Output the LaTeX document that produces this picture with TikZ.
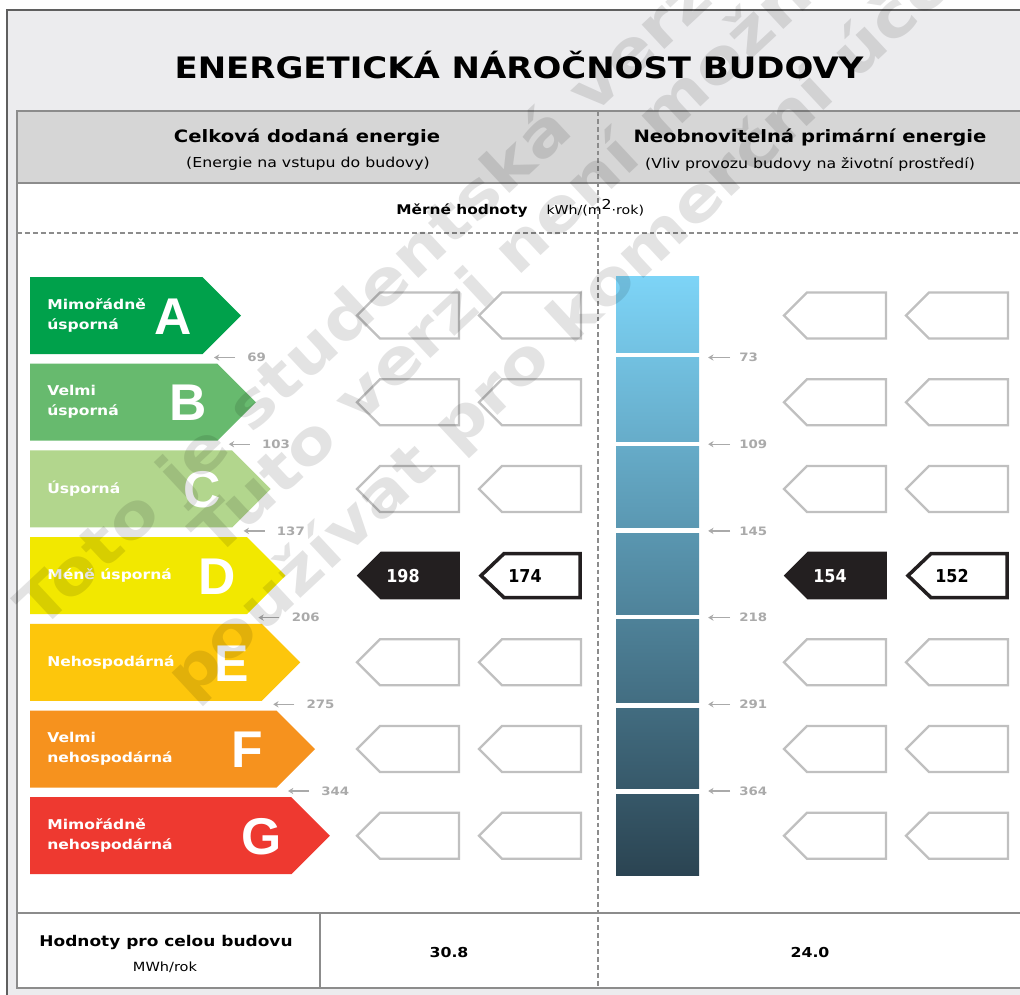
\documentclass[tikz,border=0pt]{standalone}
\usepackage{fontspec}
\setmainfont{DejaVu Sans}[FakeStretch=1.15]
\newfontfamily\letterfont{Liberation Sans}
\newfontfamily\tagfont{DejaVu Sans}[FakeStretch=0.9]
\usetikzlibrary{arrows.meta, positioning}

\definecolor{clsA}{RGB}{0,161,75}
\definecolor{clsB}{RGB}{103,186,110}
\definecolor{clsC}{RGB}{178,214,141}
\definecolor{clsD}{RGB}{242,232,0}
\definecolor{clsE}{RGB}{253,198,12}
\definecolor{clsF}{RGB}{246,146,30}
\definecolor{clsG}{RGB}{238,57,48}
\definecolor{framedark}{RGB}{95,95,95}
\definecolor{framegray}{RGB}{140,140,140}
\definecolor{titlebg}{RGB}{236,236,238}
\definecolor{headbg}{RGB}{214,214,214}
\definecolor{scalegray}{RGB}{170,170,170}
\definecolor{tagline}{RGB}{192,192,192}
\definecolor{tagblack}{RGB}{35,31,32}
\definecolor{barTop}{RGB}{125,212,247}
\definecolor{barMid}{RGB}{95,155,182}
\definecolor{barBot}{RGB}{43,68,82}

\newcommand{\enTitle}{\fontsize{16.8}{20}\selectfont\bfseries}
\newcommand{\enHead}{\fontsize{9.7}{12}\selectfont\bfseries}
\newcommand{\enSub}{\fontsize{7.8}{10}\selectfont}
\newcommand{\enCls}{\fontsize{7.7}{11.4}\selectfont\bfseries}
\newcommand{\enLetter}{\letterfont\fontsize{29.4}{30}\selectfont\bfseries}
\newcommand{\enLbl}{\fontsize{6.6}{8}\selectfont\bfseries}
\newcommand{\enVal}{\tagfont\fontsize{10.1}{12}\selectfont\bfseries}
\newcommand{\enMark}{\fontsize{34.7}{40}\selectfont\bfseries}

\begin{document}
\begin{tikzpicture}[x=0.02cm, y=-0.02cm,
    panelline/.style={draw=framegray, line width=0.9pt},
    dashline/.style={draw=framegray, line width=0.9pt, dash pattern=on 2.8pt off 1.7pt},
    clstext/.style={text=white, font=\enCls, align=left, anchor=west, inner sep=0pt},
    clsletter/.style={text=white, font=\enLetter, inner sep=0pt},
    lbl/.style={text=scalegray, font=\enLbl, anchor=west, inner sep=0pt},
    sarrow/.style={draw=scalegray, line width=0.8pt, -{Stealth[length=3pt, width=3.6pt]}},
    emptytag/.style={draw=tagline, line width=1.3pt},
    fulltag/.style={fill=tagblack, draw=tagblack, line width=1pt},
    outtag/.style={fill=white, draw=tagblack, line width=2pt},
    valtext/.style={font=\enVal, inner sep=0pt}]
\useasboundingbox (0,0) rectangle (1020,994);
\clip (0,0) rectangle (1020,994);

% frame and bands
\fill[titlebg] (7,10) rectangle (1024,996);
\draw[framedark, line width=1.2pt] (7,996) -- (7,10) -- (1024,10);
\fill[headbg] (17,111) rectangle (1024,183);
\fill[white] (17,183) rectangle (1024,988);
\draw[panelline] (1024,111) -- (17,111) -- (17,988) -- (1024,988);
\draw[panelline] (17,183) -- (1024,183);
\draw[panelline] (17,913) -- (1024,913);
\draw[panelline] (320,913) -- (320,988);
\draw[dashline] (598,111) -- (598,988);
\draw[dashline] (17,233) -- (1024,233);

% headings
\node[font=\enTitle] (title) at (519,65) {ENERGETICKÁ NÁROČNOST BUDOVY};
\node[font=\enHead] (hdelivered) at (307,138) {Celková dodaná energie};
\node[font=\enSub] (sdelivered) at (308,164) {(Energie na vstupu do budovy)};
\node[font=\enHead] (hprimary) at (810,138) {Neobnovitelná primární energie};
\node[font=\enSub] (sprimary) at (810,164) {(Vliv provozu budovy na životní prostředí)};
\node[font=\fontsize{7.6}{9}\selectfont\bfseries] (specific) at (462,211) {Měrné hodnoty};
\node[font=\fontsize{7}{8}\selectfont, right=7pt of specific.base east, anchor=base west, inner sep=0pt] (unit)
  {kWh/(m\raisebox{3.2pt}{\fontsize{7.8}{8}\selectfont 2}·rok)};

% energy classes
\foreach \i/\col/\txt/\cl in {0/clsA/{Mimořádně\\úsporná}/A, 1/clsB/{Velmi\\úsporná}/B,
    2/clsC/Úsporná/C, 3/clsD/Méně úsporná/D, 4/clsE/Nehospodárná/E,
    5/clsF/{Velmi\\nehospodárná}/F, 6/clsG/{Mimořádně\\nehospodárná}/G}{
  \pgfmathsetmacro{\ty}{277+86.7*\i}
  \pgfmathsetmacro{\tip}{241+14.8*\i}
  \fill[\col] (30,\ty) -- (\tip-38.5,\ty) -- (\tip,\ty+38.5) -- (\tip-38.5,\ty+77) -- (30,\ty+77) -- cycle;
  \node[clstext] (cls\cl) at (47,\ty+38.5) {\txt};
  \node[clsletter] (let\cl) at (\tip-68,\ty+39.5) {\cl};
}

% class limits
\foreach \i/\v in {0/69, 1/103, 2/137, 3/206, 4/275, 5/344}{
  \pgfmathsetmacro{\ly}{277+86.7*\i+80.5}
  \pgfmathsetmacro{\tip}{241+14.8*\i}
  \node[lbl] (lim\v) at (\tip+6,\ly) {\v};
  \draw[sarrow] ([xshift=-6.8pt]lim\v.west) -- ++(-21,0);
}

% primary energy scale
\shade[top color=barTop, middle color=barMid, bottom color=barBot] (616,276) rectangle (699,875);
\foreach \g in {355,444,530.5,617,705.5,791.5}
  \fill[white] (613,\g-2.3) rectangle (702,\g+2.3);
\foreach \i/\v in {0/73, 1/109, 2/145, 3/218, 4/291, 5/364}{
  \pgfmathsetmacro{\ly}{277+86.7*\i+80.5}
  \node[lbl] (prim\v) at (739,\ly) {\v};
  \draw[sarrow] ([xshift=-5pt]prim\v.west) -- ++(-22,0);
}

% value tags
\foreach \i in {0,1,2,4,5,6}{
  \pgfmathsetmacro{\cy}{277+86.7*\i+38.5}
  \foreach \tx in {357,479,784,906}
    \draw[emptytag] (\tx,\cy) -- ++(23,-23) -- ++(79,0) -- ++(0,46) -- ++(-79,0) -- cycle;
}
\filldraw[fulltag] (358,575.6) -- ++(23,-23) -- ++(78,0) -- ++(0,46) -- ++(-78,0) -- cycle;
\filldraw[outtag] (481,575.6) -- ++(23,-22) -- ++(76,0) -- ++(0,44) -- ++(-76,0) -- cycle;
\filldraw[fulltag] (785,575.6) -- ++(23,-23) -- ++(78,0) -- ++(0,46) -- ++(-78,0) -- cycle;
\filldraw[outtag] (908,575.6) -- ++(23,-22) -- ++(76,0) -- ++(0,44) -- ++(-76,0) -- cycle;
\node[valtext, text=white] (v198) at (403,576) {198};
\node[valtext] (v174) at (525,576) {174};
\node[valtext, text=white] (v154) at (830,576) {154};
\node[valtext] (v152) at (952,576) {152};

% whole building
\node[font=\fontsize{8.4}{10}\selectfont\bfseries] (whole) at (166,942) {Hodnoty pro celou budovu};
\node[font=\fontsize{7.2}{9}\selectfont] (wunit) at (165,967) {MWh/rok};
\node[font=\fontsize{7.8}{9}\selectfont\bfseries] (wdelivered) at (449,952) {30.8};
\node[font=\fontsize{7.8}{9}\selectfont\bfseries] (wprimary) at (810,952) {24.0};

% watermark
\begin{scope}[every node/.style={font=\enMark, text=black, text opacity=0.11, rotate=43, anchor=base west, inner sep=0pt}]
\node (wm1) at (40,632) {Toto je studentská verze};
\node (wm2) at (215,560) {Tuto verzi není možné};
\node (wm3) at (190,702) {používat pro komerční účely};
\end{scope}
\end{tikzpicture}
\end{document}
